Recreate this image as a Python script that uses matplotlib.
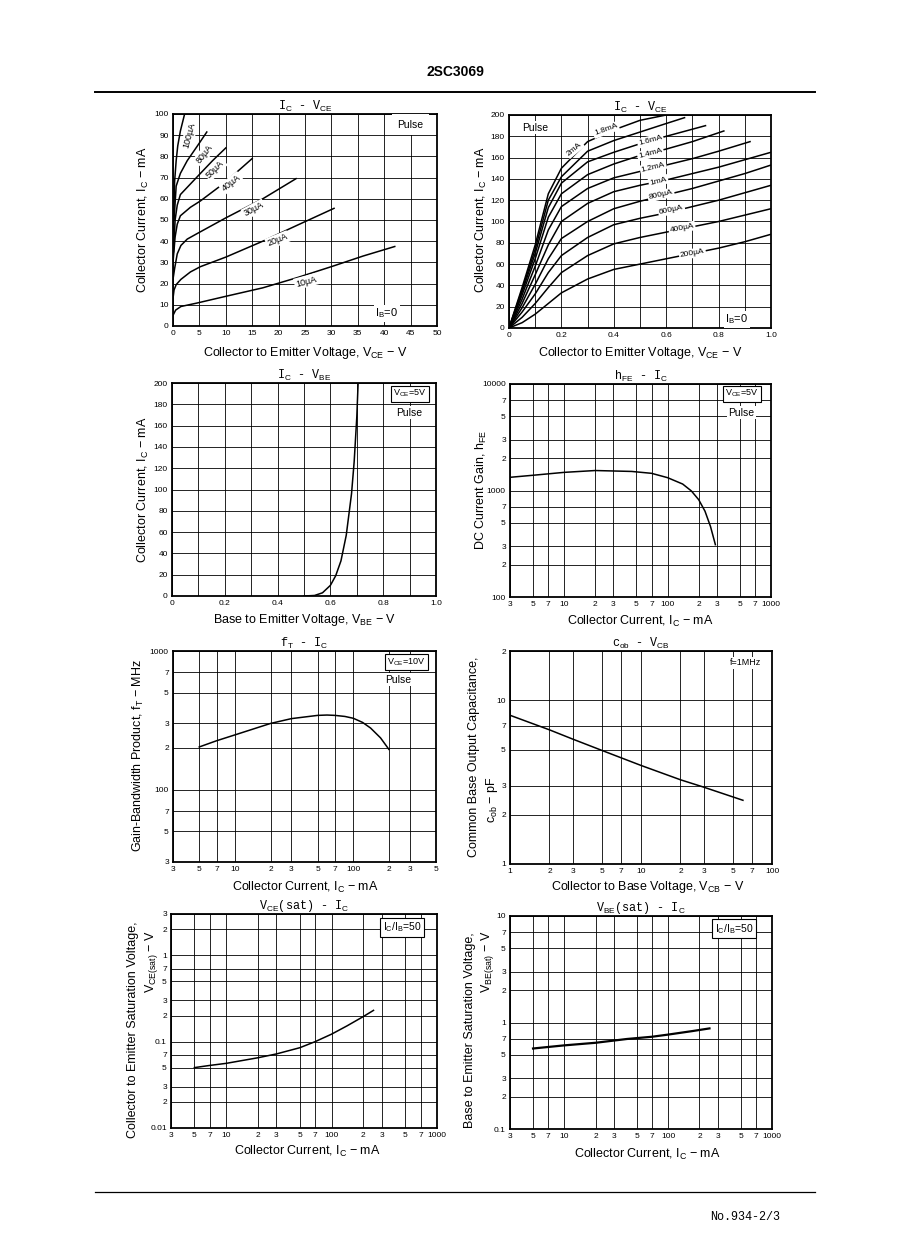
import matplotlib
matplotlib.use('Agg')
import matplotlib.pyplot as plt
from matplotlib.lines import Line2D
from matplotlib.ticker import NullLocator

plt.rcParams['font.family'] = ['Liberation Sans', 'DejaVu Sans']
plt.rcParams['mathtext.fontset'] = 'custom'
plt.rcParams['mathtext.rm'] = 'Liberation Sans'
plt.rcParams['mathtext.it'] = 'Liberation Sans:italic'

# --- Data ---

# IC - VCE, low current (IB = 10 .. 100 uA), VCE in V, IC in mA
vce_10u = [0, 0.5, 1.5, 4.5, 10, 17, 23.5, 30, 36, 42]
ic_10u = [5, 7.5, 9.2, 10.8, 14, 18, 22.8, 28, 33, 37.5]
vce_20u = [0, 0.2, 0.6, 1.5, 3.3, 5.2, 10, 17, 23.5, 30.5]
ic_20u = [13, 17, 19.5, 22, 25.5, 28, 32.5, 40, 47.5, 55.5]
vce_30u = [0, 0.3, 0.8, 1.5, 2.7, 4.5, 10, 17, 23.3]
ic_30u = [22, 27, 34, 38, 41, 43.5, 51, 60, 69.5]
vce_40u = [0, 0.4, 0.8, 1.4, 3.3, 5.2, 10, 15]
ic_40u = [30, 42, 48, 52, 56, 59, 68, 79]
vce_50u = [0.1, 0.4, 0.8, 1.4, 3.3, 5.2, 7.5, 10]
ic_50u = [35, 50, 57, 62, 67, 72, 78, 84]
vce_80u = [0.2, 0.6, 1.4, 2.7, 4.5, 6.4]
ic_80u = [50, 66, 72, 78, 84.5, 91.5]
vce_100u = [0.1, 0.3, 0.6, 0.9, 1.4, 2.2]
ic_100u = [45, 68, 78, 85, 92, 100]

# IC - VCE, high current (IB = 200 uA .. 2 mA)
vce_hi = [0, 0.05, 0.1, 0.15, 0.2, 0.3, 0.4, 0.5, 0.6, 0.7, 0.8, 0.9, 1.0]
ic_200u = [0, 5, 13, 23, 33, 46, 55, 60, 65, 70, 75, 81, 88]
ic_400u = [0, 10, 23, 38, 52, 68, 79, 85, 90, 95, 100, 106, 112]
ic_600u = [0, 15, 32, 52, 68, 85, 97, 103, 108, 114, 120, 127, 134]
ic_800u = [0, 19, 41, 65, 84, 100, 112, 119, 125, 131, 138, 145, 153]
ic_1m = [0, 23, 50, 78, 100, 117, 128, 134, 139, 145, 151, 158, 165]
vce_1m2 = [0, 0.05, 0.1, 0.15, 0.2, 0.3, 0.4, 0.5, 0.6, 0.7, 0.8, 0.92]
ic_1m2 = [0, 27, 58, 92, 114, 131, 141, 147, 153, 159, 166, 175]
vce_1m4 = [0, 0.05, 0.1, 0.15, 0.2, 0.3, 0.4, 0.5, 0.6, 0.7, 0.82]
ic_1m4 = [0, 31, 65, 104, 126, 144, 154, 162, 168, 175, 185]
vce_1m6 = [0, 0.05, 0.1, 0.15, 0.2, 0.3, 0.4, 0.5, 0.6, 0.75]
ic_1m6 = [0, 34, 70, 113, 136, 156, 165, 173, 180, 190]
vce_1m8 = [0, 0.05, 0.1, 0.15, 0.2, 0.3, 0.4, 0.5, 0.6, 0.67]
ic_1m8 = [0, 36, 74, 120, 142, 166, 176, 184, 192, 197.5]
vce_2m = [0, 0.05, 0.1, 0.15, 0.2, 0.3, 0.4, 0.5, 0.6]
ic_2m = [0, 38, 78, 126, 150, 175, 186, 195, 200]

# IC - VBE
vbe = [0.50, 0.54, 0.57, 0.60, 0.62, 0.64, 0.66, 0.68, 0.69, 0.70, 0.705]
ic_vbe = [0, 0.5, 3, 10, 19, 33, 57, 96, 126, 168, 200]

# hFE - IC
ic_hfe = [3, 5, 10, 20, 45, 70, 100, 140, 170, 200, 230, 260, 290]
hfe = [1330, 1390, 1480, 1540, 1510, 1450, 1320, 1150, 990, 820, 640, 460, 310]

# fT - IC
ic_ft = [5, 7, 10, 20, 30, 50, 60, 70, 85, 100, 120, 140, 170, 200]
ft = [203, 225, 248, 300, 325, 343, 345, 343, 337, 327, 305, 278, 236, 195]

# Cob - VCB
vcb = [1, 2, 3, 5, 10, 20, 30, 60]
cob = [8.1, 6.6, 5.8, 4.95, 4.0, 3.27, 2.95, 2.45]

# VCE(sat) - IC
ic_vcesat = [5, 7, 10, 20, 30, 50, 70, 100, 140, 200, 250]
vce_sat = [0.050, 0.053, 0.056, 0.065, 0.072, 0.085, 0.10, 0.122, 0.152, 0.195, 0.23]

# VBE(sat) - IC
ic_vbesat = [5, 10, 20, 40, 70, 100, 170, 250]
vbe_sat = [0.57, 0.61, 0.645, 0.70, 0.735, 0.77, 0.83, 0.88]

# --- Tick positions / labels ---
lin50_ticks = list(range(0, 55, 5))
lin50_labels = [str(t) for t in lin50_ticks]
lin100_ticks = list(range(0, 110, 10))
lin100_labels = [str(t) for t in lin100_ticks]
v1_ticks = [i / 10 for i in range(11)]
v1_labels = ['0', '', '0.2', '', '0.4', '', '0.6', '', '0.8', '', '1.0']
i200_ticks = list(range(0, 220, 20))
i200_labels = [str(t) for t in i200_ticks]

ic_log_ticks = [3, 5, 7, 10, 20, 30, 50, 70, 100, 200, 300, 500, 700, 1000]
ic_log_labels = ['3', '5', '7', '10', '2', '3', '5', '7', '100', '2', '3', '5', '7', '1000']
ic5_ticks = [3, 5, 7, 10, 20, 30, 50, 70, 100, 200, 300, 500]
ic5_labels = ['3', '5', '7', '10', '2', '3', '5', '7', '100', '2', '3', '5']
hfe_ticks = [100, 200, 300, 500, 700, 1000, 2000, 3000, 5000, 7000, 10000]
hfe_labels = ['100', '2', '3', '5', '7', '1000', '2', '3', '5', '7', '10000']
ft_ticks = [30, 50, 70, 100, 200, 300, 500, 700, 1000]
ft_labels = ['3', '5', '7', '100', '2', '3', '5', '7', '1000']
vcb_ticks = [1, 2, 3, 5, 7, 10, 20, 30, 50, 70, 100]
vcb_labels = ['1', '2', '3', '5', '7', '10', '2', '3', '5', '7', '100']
cob_ticks = [1, 2, 3, 5, 7, 10, 20]
cob_labels = ['1', '2', '3', '5', '7', '10', '2']
vcesat_ticks = [0.01, 0.02, 0.03, 0.05, 0.07, 0.1, 0.2, 0.3, 0.5, 0.7, 1, 2, 3]
vcesat_labels = ['0.01', '2', '3', '5', '7', '0.1', '2', '3', '5', '7', '1', '2', '3']
vbesat_ticks = [0.1, 0.2, 0.3, 0.5, 0.7, 1, 2, 3, 5, 7, 10]
vbesat_labels = ['0.1', '2', '3', '5', '7', '1', '2', '3', '5', '7', '10']

W, H = 898, 1260
fig = plt.figure(figsize=(W / 100, H / 100), dpi=100)
fig.patch.set_facecolor('white')


def add_ax(x0, y0, x1, y1):
    return fig.add_axes([x0 / W, 1 - y1 / H, (x1 - x0) / W, (y1 - y0) / H])


def style(ax, xt, xl, yt, yl, xlim, ylim, logx=False, logy=False):
    if logx:
        ax.set_xscale('log')
    if logy:
        ax.set_yscale('log')
    ax.set_xlim(*xlim)
    ax.set_ylim(*ylim)
    ax.set_xticks(xt)
    ax.set_xticklabels(xl)
    ax.set_yticks(yt)
    ax.set_yticklabels(yl)
    ax.xaxis.set_minor_locator(NullLocator())
    ax.yaxis.set_minor_locator(NullLocator())
    ax.tick_params(length=0, labelsize=6, pad=3)
    ax.grid(True, color='black', lw=0.6)
    ax.set_axisbelow(True)
    for s in ax.spines.values():
        s.set_linewidth(1.3)


def fx(x):
    return x / W


def fy(y):
    return 1 - y / H


def ylab(x, y, s, size=9):
    fig.text(fx(x), fy(y), s, rotation=90, ha='center', va='center', fontsize=size)


def xlab(x, y, s):
    fig.text(fx(x), fy(y), s, ha='center', va='center', fontsize=9)


def title(ax, s):
    ax.set_title(s, fontsize=8.5, pad=2, family=['Liberation Mono', 'DejaVu Sans Mono'])


box = dict(boxstyle='square,pad=0.15', fc='white', ec='none')
box_edge = dict(boxstyle='square,pad=0.25', fc='white', ec='black', lw=0.8)
curve_kw = dict(color='black', lw=1.1)

# --- Header / footer ---
fig.text(fx(455), fy(72), '2SC3069', ha='center', va='center', fontsize=10, weight='bold')
fig.add_artist(Line2D([fx(95), fx(815)], [fy(92), fy(92)], color='black', lw=1.4))
fig.add_artist(Line2D([fx(95), fx(815)], [fy(1192), fy(1192)], color='black', lw=0.9))
fig.text(fx(745), fy(1217), 'No.934-2/3', ha='center', va='center', fontsize=8.5,
         family=['Liberation Mono', 'DejaVu Sans Mono'])

# --- 1: IC - VCE (low) ---
ax = add_ax(173, 114, 437, 326)
style(ax, lin50_ticks, lin50_labels, lin100_ticks, lin100_labels, (0, 50), (0, 100))
for xs, ys in [(vce_10u, ic_10u), (vce_20u, ic_20u), (vce_30u, ic_30u), (vce_40u, ic_40u),
               (vce_50u, ic_50u), (vce_80u, ic_80u), (vce_100u, ic_100u)]:
    ax.plot(xs, ys, **curve_kw)
for s, x, y, r in [('100µA', 3.1, 90, 75), ('80µA', 5.9, 81, 52), ('50µA', 8.0, 74, 45),
                   ('40µA', 11.0, 67.5, 38), ('30µA', 15.3, 55, 28), ('20µA', 19.8, 40.5, 22),
                   ('10µA', 25.2, 21, 15)]:
    ax.text(x, y, s, rotation=r, fontsize=6.5, ha='center', va='center', bbox=box)
ax.text(45, 95, 'Pulse', fontsize=7.5, ha='center', va='center',
        bbox=dict(boxstyle='square,pad=0.5', fc='white', ec='none'))
ax.text(40.5, 6, r'I$_\mathrm{B}$=0', fontsize=8, ha='center', va='center', bbox=box)
title(ax, r'I$_\mathrm{C}$ - V$_\mathrm{CE}$')
ylab(143, 220, r'Collector Current, I$_\mathrm{C}$ $-$ mA')
xlab(305, 353, r'Collector to Emitter Voltage, V$_\mathrm{CE}$ $-$ V')

# --- 2: IC - VCE (high) ---
ax = add_ax(509, 115, 771, 328)
style(ax, v1_ticks, v1_labels, i200_ticks, i200_labels, (0, 1.0), (0, 200))
for xs, ys in [(vce_hi, ic_200u), (vce_hi, ic_400u), (vce_hi, ic_600u), (vce_hi, ic_800u),
               (vce_hi, ic_1m), (vce_1m2, ic_1m2), (vce_1m4, ic_1m4), (vce_1m6, ic_1m6),
               (vce_1m8, ic_1m8), (vce_2m, ic_2m)]:
    ax.plot(xs, ys, **curve_kw)
for s, x, y, r in [('2mA', 0.25, 168, 40), ('1.8mA', 0.37, 186, 20), ('1.6mA', 0.54, 176, 15),
                   ('1.4mA', 0.54, 164, 15), ('1.2mA', 0.55, 151, 14), ('1mA', 0.57, 138, 14),
                   ('800µA', 0.58, 125, 13), ('600µA', 0.62, 111, 12), ('400µA', 0.66, 94, 11),
                   ('200µA', 0.70, 70, 10)]:
    ax.text(x, y, s, rotation=r, fontsize=6, ha='center', va='center', bbox=box)
ax.text(0.1, 188, 'Pulse', fontsize=7.5, ha='center', va='center', bbox=box)
ax.text(0.87, 8, r'I$_\mathrm{B}$=0', fontsize=8, ha='center', va='center', bbox=box)
title(ax, r'I$_\mathrm{C}$ - V$_\mathrm{CE}$')
ylab(481, 220, r'Collector Current, I$_\mathrm{C}$ $-$ mA')
xlab(640, 353, r'Collector to Emitter Voltage, V$_\mathrm{CE}$ $-$ V')

# --- 3: IC - VBE ---
ax = add_ax(172, 383, 436, 596)
style(ax, v1_ticks, v1_labels, i200_ticks, i200_labels, (0, 1.0), (0, 200))
ax.plot(vbe, ic_vbe, **curve_kw)
ax.text(0.9, 190, r'V$_\mathrm{CE}$=5V', fontsize=6.5, ha='center', va='center', bbox=box_edge)
ax.text(0.9, 172, 'Pulse', fontsize=7.5, ha='center', va='center', bbox=box)
title(ax, r'I$_\mathrm{C}$ - V$_\mathrm{BE}$')
ylab(143, 490, r'Collector Current, I$_\mathrm{C}$ $-$ mA')
xlab(305, 620, r'Base to Emitter Voltage, V$_\mathrm{BE}$ $-$ V')

# --- 4: hFE - IC ---
ax = add_ax(510, 384, 771, 597)
style(ax, ic_log_ticks, ic_log_labels, hfe_ticks, hfe_labels, (3, 1000), (100, 10000),
      logx=True, logy=True)
ax.plot(ic_hfe, hfe, **curve_kw)
ax.text(520, 8100, r'V$_\mathrm{CE}$=5V', fontsize=6.5, ha='center', va='center', bbox=box_edge)
ax.text(520, 5400, 'Pulse', fontsize=7.5, ha='center', va='center', bbox=box)
title(ax, r'h$_\mathrm{FE}$ - I$_\mathrm{C}$')
ylab(481, 490, r'DC Current Gain, h$_\mathrm{FE}$')
xlab(640, 621, r'Collector Current, I$_\mathrm{C}$ $-$ mA')

# --- 5: fT - IC ---
ax = add_ax(173, 651, 436, 862)
style(ax, ic5_ticks, ic5_labels, ft_ticks, ft_labels, (3, 500), (30, 1000),
      logx=True, logy=True)
ax.plot(ic_ft, ft, **curve_kw)
ax.text(280, 830, r'V$_\mathrm{CE}$=10V', fontsize=6.5, ha='center', va='center', bbox=box_edge)
ax.text(240, 620, 'Pulse', fontsize=7.5, ha='center', va='center', bbox=box)
title(ax, r'f$_\mathrm{T}$ - I$_\mathrm{C}$')
ylab(138, 755, r'Gain-Bandwidth Product, f$_\mathrm{T}$ $-$ MHz')
xlab(305, 887, r'Collector Current, I$_\mathrm{C}$ $-$ mA')

# --- 6: Cob - VCB ---
ax = add_ax(510, 651, 772, 864)
style(ax, vcb_ticks, vcb_labels, cob_ticks, cob_labels, (1, 100), (1, 20),
      logx=True, logy=True)
ax.plot(vcb, cob, **curve_kw)
ax.text(63, 16.9, 'f=1MHz', fontsize=6.5, ha='center', va='center', bbox=box)
title(ax, r'c$_\mathrm{ob}$ - V$_\mathrm{CB}$')
ylab(474, 757, 'Common Base Output Capacitance,')
ylab(492, 800, r'c$_\mathrm{ob}$ $-$ pF')
xlab(648, 887, r'Collector to Base Voltage, V$_\mathrm{CB}$ $-$ V')

# --- 7: VCE(sat) - IC ---
ax = add_ax(171, 914, 437, 1128)
style(ax, ic_log_ticks, ic_log_labels, vcesat_ticks, vcesat_labels, (3, 1000), (0.01, 3),
      logx=True, logy=True)
ax.plot(ic_vcesat, vce_sat, **curve_kw)
ax.text(470, 2.1, r'I$_\mathrm{C}$/I$_\mathrm{B}$=50', fontsize=7.5, ha='center', va='center',
        bbox=box_edge)
title(ax, r'V$_\mathrm{CE}$(sat) - I$_\mathrm{C}$')
ylab(133, 1030, 'Collector to Emitter Saturation Voltage,')
ylab(152, 962, r'V$_\mathrm{CE(sat)}$ $-$ V')
xlab(307, 1151, r'Collector Current, I$_\mathrm{C}$ $-$ mA')

# --- 8: VBE(sat) - IC ---
ax = add_ax(510, 916, 772, 1129)
style(ax, ic_log_ticks, ic_log_labels, vbesat_ticks, vbesat_labels, (3, 1000), (0.1, 10),
      logx=True, logy=True)
ax.plot(ic_vbesat, vbe_sat, color='black', lw=1.6)
ax.text(430, 7.6, r'I$_\mathrm{C}$/I$_\mathrm{B}$=50', fontsize=7.5, ha='center', va='center',
        bbox=box_edge)
title(ax, r'V$_\mathrm{BE}$(sat) - I$_\mathrm{C}$')
ylab(470, 1030, 'Base to Emitter Saturation Voltage,')
ylab(488, 962, r'V$_\mathrm{BE(sat)}$ $-$ V')
xlab(647, 1154, r'Collector Current, I$_\mathrm{C}$ $-$ mA')

fig.savefig('out.png', dpi=100, facecolor='white')
